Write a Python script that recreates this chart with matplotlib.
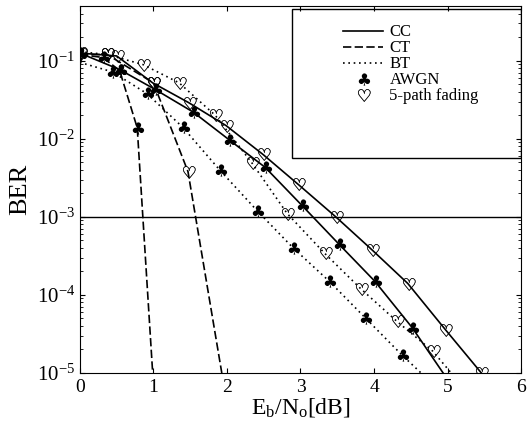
import matplotlib
matplotlib.use('Agg')
import matplotlib.pyplot as plt
from matplotlib.path import Path
from matplotlib.textpath import TextPath
from matplotlib.font_manager import FontProperties
from matplotlib.lines import Line2D
from matplotlib.patches import Rectangle

plt.rcParams['font.family'] = 'Liberation Serif'
plt.rcParams['mathtext.fontset'] = 'custom'
plt.rcParams['mathtext.rm'] = 'Liberation Serif'
plt.rcParams['mathtext.it'] = 'Liberation Serif:italic'

# BER curves, Eb/No in dB
cc_awgn_x = [0.0, 0.54, 1.02, 1.54, 2.03, 2.52, 3.02, 3.52, 4.01, 4.52, 4.94]
cc_awgn_ber = [0.125, 0.077, 0.043, 0.022, 0.0097, 0.0043, 0.0014, 4.5e-4, 1.5e-4, 3.8e-5, 1e-5]

cc_fade_x = [0.0, 0.5, 0.99, 1.48, 1.99, 2.49, 2.97, 3.48, 3.97, 4.46, 4.97, 5.46]
cc_fade_ber = [0.125, 0.115, 0.052, 0.029, 0.0147, 0.0063, 0.0026, 1.0e-3, 3.8e-4, 1.4e-4, 3.6e-5, 1e-5]

ct_awgn_x = [0.0, 0.31, 0.54, 0.78, 0.99]
ct_awgn_ber = [0.12, 0.11, 0.075, 0.0138, 1e-5]

ct_fade_x = [0.0, 0.37, 1.0, 1.47, 1.93]
ct_fade_ber = [0.12, 0.12, 0.052, 0.0038, 1e-5]

bt_awgn_x = [0.0, 0.44, 0.91, 1.40, 1.90, 2.41, 2.90, 3.39, 3.88, 4.38, 4.64]
bt_awgn_ber = [0.095, 0.072, 0.038, 0.014, 0.004, 0.0012, 4e-4, 1.5e-4, 5.1e-5, 1.7e-5, 1e-5]

bt_fade_x = [0.0, 0.37, 0.86, 1.35, 1.84, 2.34, 2.82, 3.33, 3.82, 4.31, 4.80, 5.05]
bt_fade_ber = [0.13, 0.12, 0.089, 0.052, 0.020, 0.0049, 1.1e-3, 3.4e-4, 1.2e-4, 4.6e-5, 1.9e-5, 1e-5]

legend_labels = ['CC', 'CT', 'BT', 'AWGN', '5-path fading']


def suit_marker(ch):
    # glyph outline centred on the origin so it sits on the data point
    tp = TextPath((0, 0), ch, size=10, prop=FontProperties(family='DejaVu Sans'))
    v = tp.vertices.copy()
    v -= (v.min(axis=0) + v.max(axis=0)) / 2
    return Path(v, tp.codes)


club = suit_marker('\u2663')
heart = suit_marker('\u2661')
marker_kw = {'club': dict(marker=club, ms=9.5, color='black', mew=0),
             'heart': dict(marker=heart, ms=10, color='black', mew=0.25)}

solid = '-'
dashed = (0, (5, 2))
dotted = (0, (1, 2.2))

fig = plt.figure(figsize=(5.29, 4.36), dpi=100)
ax = fig.add_axes([0.151, 0.1445, 0.834, 0.8415])

curves = [
    (cc_awgn_x, cc_awgn_ber, solid, 'club', slice(0, -1)),
    (cc_fade_x, cc_fade_ber, solid, 'heart', slice(0, None)),
    (ct_awgn_x, ct_awgn_ber, dashed, 'club', slice(0, -1)),
    (ct_fade_x, ct_fade_ber, dashed, 'heart', slice(0, -1)),
    (bt_awgn_x, bt_awgn_ber, dotted, 'club', slice(1, -1)),
    (bt_fade_x, bt_fade_ber, dotted, 'heart', slice(1, -1)),
]
for x, y, ls, mk, every in curves:
    ax.plot(x, y, color='black', linestyle=ls, lw=1.2)
    ax.plot(x[every], y[every], linestyle='none', **marker_kw[mk])

ax.axhline(1e-3, color='black', lw=1)

ax.set_yscale('log')
ax.set_xlim(0, 6)
ax.set_ylim(1e-5, 0.5)
ax.set_xticks(range(7))
ax.tick_params(axis='both', which='both', direction='in', top=True, right=True)
ax.tick_params(axis='x', labelsize=14, pad=4)
ax.tick_params(axis='y', labelsize=15)
ax.set_xlabel(r'E$_\mathrm{b}$/N$_\mathrm{o}$[dB]', fontsize=17, labelpad=0)
ax.set_ylabel('BER', fontsize=19, labelpad=4)

handles = [
    Line2D([], [], color='black', linestyle=solid, lw=1.2),
    Line2D([], [], color='black', linestyle=dashed, lw=1.2),
    Line2D([], [], color='black', linestyle=dotted, lw=1.2),
    Line2D([], [], linestyle='none', **marker_kw['club']),
    Line2D([], [], linestyle='none', **marker_kw['heart']),
]
ax.legend(handles, legend_labels, loc='upper left', bbox_to_anchor=(0.596, 0.95),
          frameon=False, fontsize=12, handlelength=2.4, handletextpad=0.4,
          labelspacing=0, borderpad=0, borderaxespad=0)
ax.add_patch(Rectangle((0.481, 0.586), 0.519, 0.406, transform=ax.transAxes,
                       fill=False, lw=1, zorder=5))

fig.savefig('out.png', dpi=100)
